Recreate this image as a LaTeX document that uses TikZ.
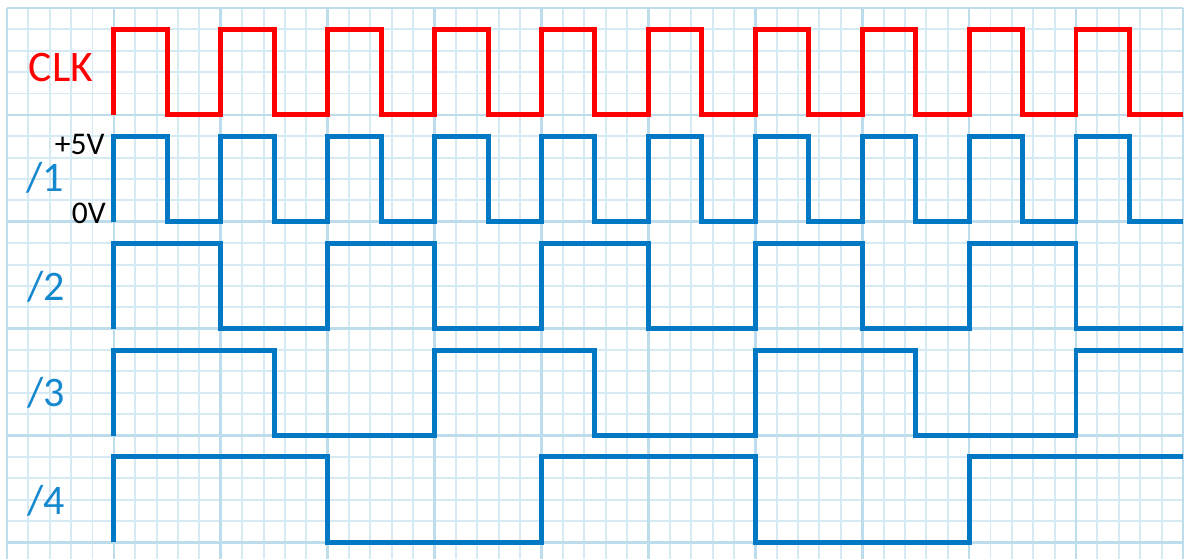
\documentclass[tikz,border=0pt]{standalone}
\usepackage{fontspec}
\setmainfont{Carlito}
\usepackage{xcolor}
\usepackage{tikz}
\usetikzlibrary{positioning, calc}
\definecolor{gridminor}{RGB}{214,234,243}
\definecolor{gridmajor}{RGB}{190,221,236}
\definecolor{sigblue}{RGB}{0,120,196}
\definecolor{labblue}{RGB}{22,136,206}
\definecolor{clkred}{RGB}{255,0,0}
\tikzset{
  minorline/.style={draw=gridminor, line width=1.3pt},
  majorline/.style={draw=gridmajor, line width=1.8pt},
  clkwave/.style={draw=clkred, line width=3.3pt, line join=miter},
  divwave/.style={draw=sigblue, line width=3.3pt, line join=miter},
  siglabel/.style={
    text=labblue, inner sep=0pt, anchor=base,
    font=\fontsize{28}{30}\selectfont
  },
  lvllabel/.style={
    text=black, inner sep=0pt, anchor=base east,
    font=\fontsize{21}{23}\selectfont
  }
}

\begin{document}
\begin{tikzpicture}[x=0.5cm, y=-0.5cm]

\useasboundingbox (-0.327,-0.374) rectangle (55.80,25.77);

%------------------------------------------------------
% GRID PAPER
%------------------------------------------------------

\foreach \i in {0,...,55} \draw[minorline] (\i,0) -- (\i,25.77);
\foreach \j in {0,...,25} \draw[minorline] (0,\j) -- (55,\j);
\foreach \i in {0,5,...,55} \draw[majorline] (\i,0) -- (\i,25.77);
\foreach \j in {0,5,...,25} \draw[majorline] (0,\j) -- (55,\j);

%------------------------------------------------------
% LABELS
%------------------------------------------------------

\node[siglabel, text=clkred, font=\fontsize{29}{31}\selectfont] (clk) at (2.53,3.46) {CLK};
\node[siglabel] (div1) at (1.78,8.6) {/1};
\node[siglabel] (div2) at (1.83,13.7) {/2};
\node[siglabel] (div3) at (1.83,18.66) {/3};
\node[siglabel] (div4) at (1.83,23.67) {/4};
\node[lvllabel] (high) at (4.58,6.83) {+5V};
\node[lvllabel] (low) at (4.63,10.06) {0V};

%------------------------------------------------------
% WAVEFORMS
%------------------------------------------------------

% clock
\draw[clkwave] (5,5) \foreach \k in {5,10,...,50} {
  -- (\k,5) -- (\k,1) -- (\k+2.5,1) -- (\k+2.5,5) } -- (55,5);

% divide by 1
\draw[divwave] (5,10) \foreach \k in {5,10,...,50} {
  -- (\k,10) -- (\k,6) -- (\k+2.5,6) -- (\k+2.5,10) } -- (55,10);

% divide by 2
\draw[divwave] (5,15) \foreach \k in {5,15,...,45} {
  -- (\k,15) -- (\k,11) -- (\k+5,11) -- (\k+5,15) } -- (55,15);

% divide by 3
\draw[divwave] (5,20) \foreach \k in {5,20,35} {
  -- (\k,20) -- (\k,16) -- (\k+7.5,16) -- (\k+7.5,20) }
  -- (50,20) -- (50,16) -- (55,16);

% divide by 4
\draw[divwave] (5,25) \foreach \k in {5,25} {
  -- (\k,25) -- (\k,21) -- (\k+10,21) -- (\k+10,25) }
  -- (45,25) -- (45,21) -- (55,21);

\end{tikzpicture}
\end{document}
